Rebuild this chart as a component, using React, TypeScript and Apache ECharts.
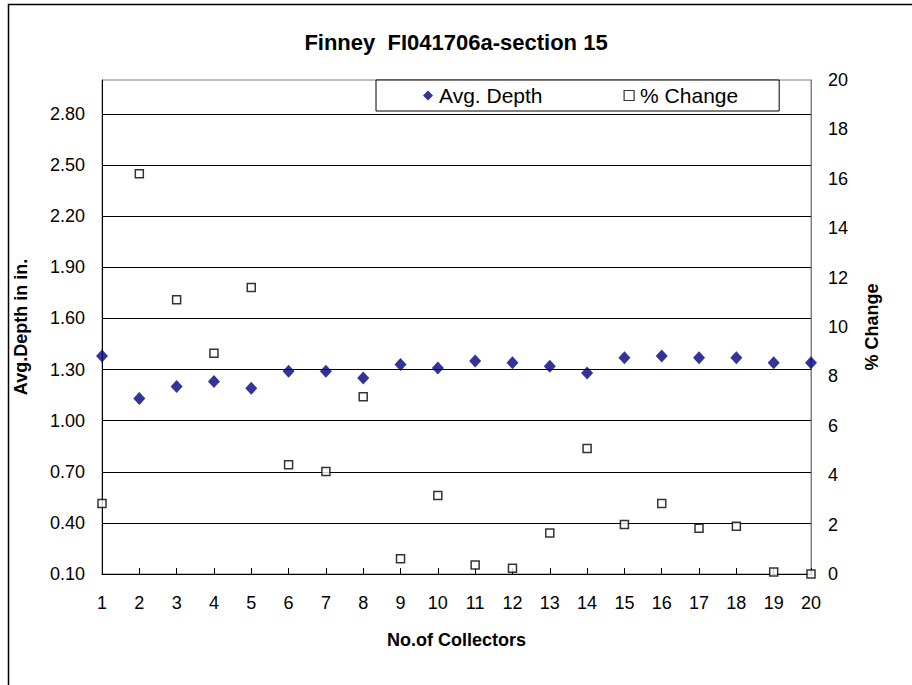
import React, { useEffect, useRef } from "react";
import * as echarts from "echarts";

const categories = ["1","2","3","4","5","6","7","8","9","10","11","12","13","14","15","16","17","18","19","20"];
const avgDepth = [1.38,1.13,1.20,1.23,1.19,1.29,1.29,1.25,1.33,1.31,1.35,1.34,1.32,1.28,1.37,1.38,1.37,1.37,1.34,1.34];
const pctChange = [2.85,16.2,11.1,8.94,11.6,4.42,4.15,7.18,0.62,3.18,0.36,0.23,1.66,5.08,2.0,2.85,1.85,1.93,0.08,0.0];
const leftMin = 0.1;
const leftMax = 3.0;
const leftStep = 0.3;
const rightMin = 0;
const rightMax = 20;
const rightStep = 2;

const FONT = "'Liberation Sans', Arial, sans-serif";

export default function App() {
  const ref = useRef<HTMLDivElement>(null);
  useEffect(() => {
    if (!ref.current) return;
    const chart = echarts.init(ref.current, null, { renderer: "svg" });
    chart.setOption({
      animation: false,
      backgroundColor: "#fff",
      textStyle: { fontFamily: FONT },
      title: {
        text: "Finney  FI041706a-section 15",
        left: "center",
        top: 26,
        textStyle: { fontFamily: FONT, fontSize: 22, fontWeight: "bold", color: "#000" },
      },
      graphic: [
        {
          type: "rect",
          shape: { x: 8.5, y: 4.5, width: 1000, height: 1000 },
          style: { fill: "none", stroke: "#000", lineWidth: 1.5 },
          silent: true,
          z: 100,
        },
      ],
      legend: {
        left: 376,
        top: 80,
        orient: "horizontal",
        backgroundColor: "#fff",
        borderColor: "#000",
        borderWidth: 1,
        padding: [5, 41, 5, 47],
        itemGap: 81,
        itemWidth: 10,
        itemHeight: 10,
        textStyle: { fontFamily: FONT, fontSize: 21, color: "#000", padding: [0, 0, 0, 1] },
        data: [
          { name: "Avg. Depth", icon: "diamond", itemStyle: { color: "#000080" } },
          { name: "% Change", icon: "rect", itemStyle: { color: "#fff", borderColor: "#000", borderWidth: 1.2 } },
        ],
        z: 10,
      },
      grid: {
        left: 102,
        right: 101,
        top: 80,
        bottom: 111,
        show: true,
        borderColor: "#808080",
        borderWidth: 1,
        containLabel: false,
      },
      xAxis: {
        type: "category",
        data: categories,
        boundaryGap: false,
        name: "No.of Collectors",
        nameLocation: "middle",
        nameGap: 57,
        nameTextStyle: { fontFamily: FONT, fontSize: 18, fontWeight: "bold", color: "#000" },
        axisLine: { lineStyle: { color: "#000", width: 1 } },
        axisTick: { show: true, inside: true, length: 6, lineStyle: { color: "#000" } },
        axisLabel: { fontFamily: FONT, fontSize: 18, color: "#000", margin: 20, interval: 0 },
        splitLine: { show: false },
      },
      yAxis: [
        {
          type: "value",
          min: 0,
          max: leftMax - leftMin,
          interval: leftStep,
          position: "left",
          name: "Avg.Depth in in.",
          nameLocation: "middle",
          nameGap: 72,
          nameRotate: 90,
          nameTextStyle: { fontFamily: FONT, fontSize: 18, fontWeight: "bold", color: "#000" },
          axisLine: { show: true, lineStyle: { color: "#000", width: 1 } },
          axisTick: { show: false },
          axisLabel: {
            fontFamily: FONT,
            fontSize: 18,
            color: "#000",
            margin: 17,
            showMaxLabel: false,
            formatter: (v: number) => (v > leftMax - leftMin - 0.05 ? "" : (v + leftMin).toFixed(2)),
          },
          splitLine: { show: true, showMaxLine: false, lineStyle: { color: "#000", width: 1 } },
        },
        {
          type: "value",
          min: rightMin,
          max: rightMax,
          interval: rightStep,
          position: "right",
          name: "% Change",
          nameLocation: "middle",
          nameGap: 52,
          nameRotate: 90,
          nameTextStyle: { fontFamily: FONT, fontSize: 18, fontWeight: "bold", color: "#000" },
          axisLine: { show: true, lineStyle: { color: "#808080", width: 1 } },
          axisTick: { show: false },
          axisLabel: { fontFamily: FONT, fontSize: 18, color: "#000", margin: 17 },
          splitLine: { show: false },
        },
      ],
      series: [
        {
          name: "Avg. Depth",
          type: "scatter",
          yAxisIndex: 0,
          symbol: "diamond",
          symbolSize: [12, 13],
          clip: false,
          itemStyle: { color: "#000080" },
          data: avgDepth.map((v) => +(v - leftMin).toFixed(4)),
          z: 3,
        },
        {
          name: "% Change",
          type: "scatter",
          yAxisIndex: 1,
          symbol: "rect",
          symbolSize: 8,
          clip: false,
          itemStyle: { color: "#fff", borderColor: "#000", borderWidth: 1.5 },
          data: pctChange,
          z: 2,
        },
      ],
    });
    return () => chart.dispose();
  }, []);
  return (
    <div
      ref={ref}
      style={{ position: "absolute", left: 0, top: 0, width: 912, height: 685 }}
    />
  );
}
